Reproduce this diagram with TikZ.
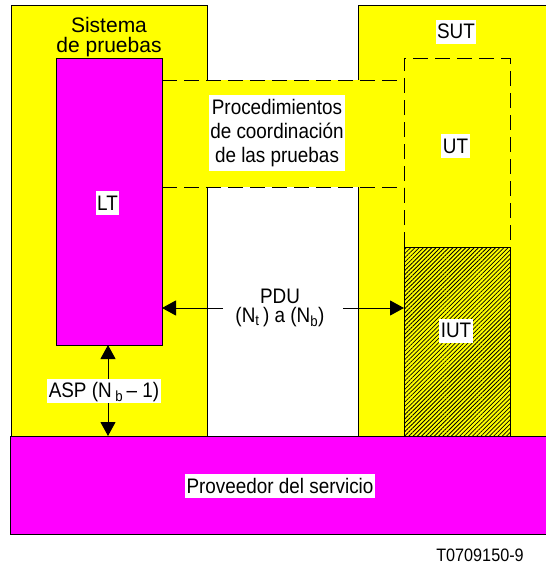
\documentclass[tikz,border=0pt]{standalone}
\usepackage{fontspec}
\setmainfont{Liberation Sans}[FakeStretch=0.9]
\newfontfamily\plainsans{Liberation Sans}
\usetikzlibrary{patterns.meta,arrows.meta}
\definecolor{yel}{RGB}{255,255,0}
\definecolor{mag}{RGB}{255,0,255}
\tikzset{
  box/.style={draw=black, line width=1pt},
  dashbox/.style={draw=black, line width=1pt, dash pattern=on 15pt off 7pt},
  lbl/.style={fill=white, inner xsep=1.5pt, inner ysep=4pt, font=\fontsize{21}{24}\selectfont, align=center},
  one/.style={fill=white, inner xsep=1.5pt, inner ysep=1pt, text height=18pt, text depth=4pt, font=\fontsize{21}{24}\selectfont},
  arr/.style={-{Triangle[length=14pt,width=15pt]}, line width=1pt},
  darr/.style={{Triangle[length=14pt,width=15pt]}-{Triangle[length=14pt,width=15pt]}, line width=1pt},
}
\begin{document}
\begin{tikzpicture}[x=1pt,y=-1pt]
\fill[white] (0,0) rectangle (546,565);
\useasboundingbox (0,0) rectangle (546,565);
% system boxes
\draw[box, fill=yel] (11,5) rectangle (207,436);
\draw[box, fill=yel] (358,5) rectangle (549,436);
% coordination region
\fill[yel] (162,80) rectangle (404,187);
\coordinate (c1) at (162,80);
\coordinate (c2) at (404,80);
\coordinate (c3) at (162,187);
\coordinate (c4) at (404,187);
\draw[dashbox] (c1) -- (c2);
\draw[dashbox] (c3) -- (c4);
% UT dashed
\coordinate (ut1) at (404,247);
\coordinate (ut2) at (404,58);
\coordinate (ut3) at (510,58);
\coordinate (ut4) at (510,247);
\draw[dashbox] (ut1) -- (ut2) -- (ut3) -- (ut4);
% LT
\node[box, fill=mag, anchor=north west, minimum width=106pt, minimum height=287pt, inner sep=0pt, outer sep=0pt] (lt) at (56,58) {};
% IUT
\node[box, fill=yel, anchor=north west, minimum width=106pt, minimum height=189pt, inner sep=0pt, outer sep=0pt] (iut) at (404,247) {};
\fill[pattern={Lines[angle=45,distance=3pt,line width=0.8pt]}, pattern color=black] (404,247) rectangle (510,436);
\draw[box] (404,247) rectangle (510,436);
% provider
\node[box, fill=mag, anchor=north west, minimum width=539pt, minimum height=98pt, inner sep=0pt, outer sep=0pt] (sp) at (10,436) {};
% labels
\node[align=center, inner sep=0pt, font=\plainsans\fontsize{21}{20}\selectfont] (sis) at (109,37) {Sistema\\de pruebas};
\node[one] (sut) at (456,31.5) {SUT};
\node[one] (ut) at (455.5,146) {UT};
\node[one] (ltl) at (107.5,203) {LT};
\node[one] (iutl) at (456,330.5) {IUT};
\node[lbl] (proc) at (277,133) {Procedimientos\\de coordinación\\de las pruebas};
\node[lbl, fill=none, font=\fontsize{21}{19}\selectfont] (pdu) at (280,308) {PDU\\(N\textsubscript{t}\,) a (N\textsubscript{b})};
\node[one] (spl) at (280,486) {Proveedor del servicio};
\node[font=\fontsize{18}{20}\selectfont, inner sep=0pt] (tag) at (480,555) {T0709150-9};
% arrows
\coordinate (pl) at (223,308);
\coordinate (pr) at (343,308);
\draw[arr] (pl) -- (lt.east |- pl);
\draw[arr] (pr) -- (iut.west |- pr);
\coordinate (ab) at (108,436);
\draw[darr] (lt.south -| ab) -- (ab);
\node[one] (asp) at (104,390.5) {ASP (N\,\textsubscript{b}\,– 1)};
\end{tikzpicture}
\end{document}
